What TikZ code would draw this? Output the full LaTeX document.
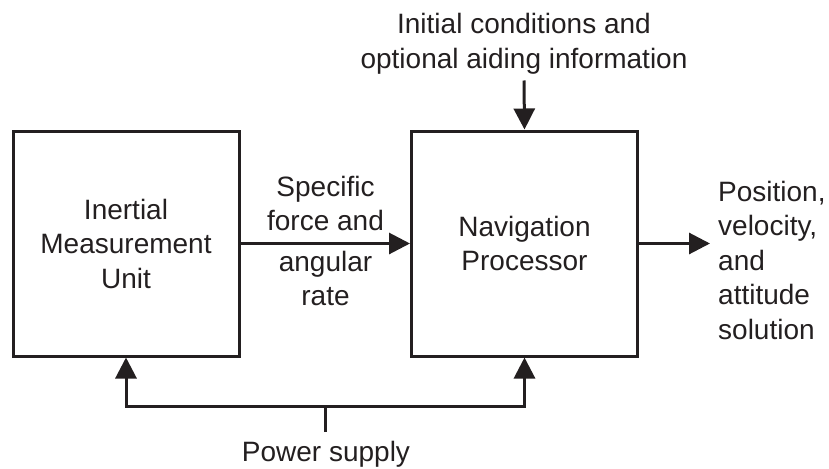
\documentclass[tikz,border=0pt]{standalone}
\usepackage{fontspec}
\setmainfont{Liberation Sans}
\usetikzlibrary{arrows.meta}
\definecolor{ink}{HTML}{231F20}
\tikzset{
  txt/.style={font=\fontsize{28}{34.5}\selectfont, text=ink, inner sep=0pt},
  block/.style={draw=ink, line width=3pt, minimum width=226pt, minimum height=225pt,
                inner sep=0pt, align=center, txt},
  wire/.style={draw=ink, line width=3pt},
  arr/.style={wire, -{Triangle[length=21pt,width=21pt]}}
}
\begin{document}
\begin{tikzpicture}[x=1pt,y=-1pt]
  \useasboundingbox (0,0) rectangle (829,468);

  % the two main blocks
  \node[block] (imu) at (126,243.5) {Inertial\\Measurement\\Unit};
  \node[block] (nav) at (524.5,243.5) {Navigation\\Processor};

  % signal labels
  \node[txt, align=center, anchor=north] (init) at (524,13.5)
    {Initial conditions and\\optional aiding information};
  \node[txt, align=center, anchor=south] (sf) at (325.5,231) {Specific\\force and};
  \node[txt, align=center, anchor=north] (ar) at (325.5,251) {angular\\rate};
  \node[txt, align=left, anchor=north west] (out) at (718,181)
    {Position,\\velocity,\\and\\attitude\\solution};
  \node[txt, anchor=north] (ps) at (326,441.5) {Power supply};

  % connector end points
  \coordinate (tap) at (325,406);
  \coordinate (outtip) at (710,243.5);

  % signal flow
  \draw[arr] (imu.east) -- (nav.west);
  \draw[arr] ([yshift=-6pt]init.south) -- (nav.north);
  \draw[arr] (nav.east) -- (outtip);

  % power distribution
  \draw[wire] ([yshift=9.5pt]ps.north -| tap) -- (tap);
  \draw[arr] (tap) -| (imu.south);
  \draw[arr] (tap) -| (nav.south);
\end{tikzpicture}
\end{document}
